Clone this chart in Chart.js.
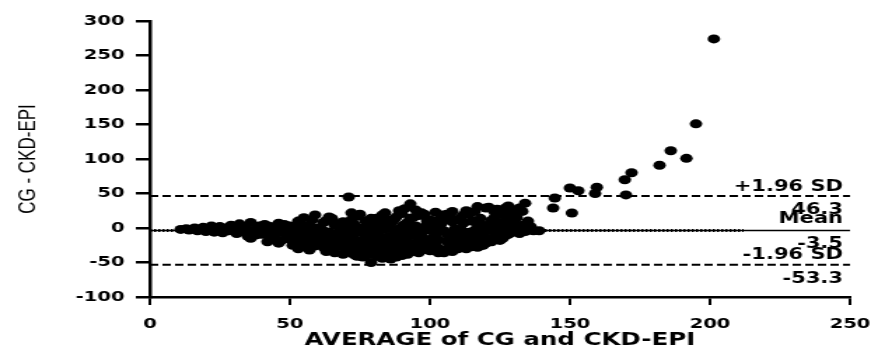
<!DOCTYPE html>
<html>
<head>
<meta charset="utf-8">
<script src="https://cdn.jsdelivr.net/npm/chart.js@4.4.0/dist/chart.umd.min.js"></script>
<style>
  body { margin: 0; background: #fff; }
  #wrap { width: 871px; height: 349px; overflow: hidden; }
  /* the original picture is stretched sideways, so the canvas is too */
  #c { transform: scaleX(1.4003); transform-origin: 0 0; }
</style>
</head>
<body>
<div id="wrap"><canvas id="c" width="622" height="349"></canvas></div>
<script>
// average of CG and CKD-EPI (x) and CG - CKD-EPI (y)
const averages = [
    11, 13, 14, 16, 17, 18, 19, 20,
    21, 22, 23, 24, 25, 26, 27, 28, 29, 30,
    31, 32, 33, 34, 35, 36, 37, 38, 39, 40, 36, 38, 34,
    41, 42, 43, 44, 45, 46, 47, 48, 49, 50, 42, 44, 46, 48, 50, 47, 43, 45,
    51, 52, 53, 54, 55, 56, 57, 58, 59, 60, 51, 52, 53, 54, 55, 56, 57, 58, 59, 60, 53, 57, 55, 59,
    61, 62, 63, 64, 65, 66, 67, 68, 69, 70, 61, 62, 63, 64, 65, 66, 67, 68, 69, 70,
    61, 62, 63, 64, 65, 66, 67, 68, 69, 70, 62, 64, 66, 68, 70,
    71, 71, 72, 73, 74, 75, 76, 77, 78, 79, 80, 71, 72, 73, 74, 75, 76, 77, 78, 79, 80,
    71, 72, 73, 74, 75, 76, 77, 78, 79, 80, 72, 74, 76, 78, 80, 73, 75, 77, 79,
    81, 82, 83, 84, 85, 86, 87, 88, 89, 90, 81, 82, 83, 84, 85, 86, 87, 88, 89, 90,
    81, 82, 83, 84, 85, 86, 87, 88, 89, 90, 81, 82, 83, 84, 85, 86, 87, 88, 89, 90, 83, 85, 87, 89,
    91, 92, 93, 94, 95, 96, 97, 98, 99, 100, 91, 92, 93, 94, 95, 96, 97, 98, 99, 100,
    91, 92, 93, 94, 95, 96, 97, 98, 99, 100, 91, 93, 95, 97, 99, 92, 94, 96, 98, 100,
    101, 102, 103, 104, 105, 106, 107, 108, 109, 110, 101, 102, 103, 104, 105, 106, 107, 108, 109, 110,
    101, 102, 103, 104, 105, 106, 107, 108, 109, 110, 102, 104, 106, 108, 110, 103,
    111, 112, 113, 114, 115, 116, 117, 118, 119, 120, 111, 112, 113, 114, 115, 116, 117, 118, 119, 120,
    111, 112, 113, 114, 115, 116, 117, 118, 119, 120, 112, 114, 116, 118, 120,
    121, 122, 123, 124, 125, 126, 127, 128, 129, 130, 121, 122, 123, 124, 125, 126, 127, 128, 129, 130,
    121, 122, 123, 124, 125, 126, 127, 128, 129, 130, 123, 125, 127,
    131, 132, 133, 134, 135, 131, 132, 133, 134, 135, 136, 130, 132, 134, 137, 139, 128, 136,
    144.6, 144, 150.7, 150, 153, 159.6, 159, 169.6, 170, 172, 182, 186, 191.6, 195, 201.4
];
const differences = [
    -2, -1, -3, 0, -4, -2, 1, -5,
    -1, 3, -6, -3, 2, -7, 0, -4, 4, -2,
    -8, 6, -3, 1, -12, 8, -5, -1, 3, -9, -15, -10, -6,
    5, -4, -14, 0, -8, 7, -18, -2, -11, 3, -20, -12, -22, 5, -16, -6, 2, -1,
    -25, -7, 10, -13, -2, -28, 4, -19, 19, -10, 1, -17, -30, 6, -22, -5, -12, 12, -26, 0, -9, -32, 15, -3,
    -20, 8, -34, -6, 14, -15, -27, 2, -38, -9, -2, -28, 11, -17, -31, 4, -11, -22, 9, -33,
    -12, -4, -24, 16, -8, -36, 6, -14, -26, 1, -18, -30, -20, -7, -16,
    45, -23, 12, -39, -3, 20, -30, -12, 7, -50, -19, 3, -14, -28, 17, -6, -42, 10, -25, -1, -36,
    -35, -8, 5, -20, -33, 0, -17, -38, 14, -10, 22, -41, -24, -4, 4, -16, -26, -40, -30,
    -41, 9, -27, 22, -13, -45, -3, 16, -32, -20, -6, -22, 3, -35, 12, -16, -29, -8, 25, -40,
    14, -31, -15, -2, -38, 6, -24, -42, -11, 2, -26, -12, 19, -19, 0, -33, 11, -28, -5, 21, -44, -23, -36, -18,
    -27, 8, 35, -34, -9, 18, -22, 1, -30, 12, -13, -38, -2, 15, -26, -5, 22, -16, 4, -33,
    5, -20, -30, -11, 26, -36, -8, -28, -19, -3, 28, 14, 3, -32, 10, -7, -24, -17, 20, -24,
    -14, 23, -29, 6, -36, -8, 17, -22, -1, -30, 2, -20, 11, -34, -4, 20, -27, 9, -15, -6,
    -25, -9, -17, -3, 14, -31, -12, 24, -28, 12, 5, 19, -19, -34, -20, -36,
    -24, 7, -11, 20, -27, -3, 31, -18, 4, -22, 15, -15, -30, -6, 10, -21, -9, 14, -25, -4,
    -2, -26, 25, -17, -12, 24, -28, 2, -10, 29, 19, -23, 9, -26, -14,
    -17, 11, -6, 27, -13, 4, 18, -9, 25, -2, 3, -20, 15, -10, 8, -15, -3, 12, -7, 22,
    30, -2, -14, 1, 20, 26, -11, 6, 0, 9, 24, -18, 29,
    -4, 29, 4, 36, -2, 15, -1, 24, -5, 10, -3, 26, -8, -1, -4, -4, 32, 2,
    43.5, 29, 21.7, 58, 54, 59, 50, 70, 48, 80, 91, 112, 101, 151, 274
];

const meanDiff = -3.5;
const upperLimit = 46.3;
const lowerLimit = -53.3;
const xRange = [0, 250];
const yRange = [-100, 300];
const dottedEnd = 212;

const points = averages.map((x, i) => ({x: x, y: differences[i]}));

function hLine(yVal, x0, x1) {
    return [{x: x0, y: yVal}, {x: x1, y: yVal}];
}

Chart.defaults.font.family = '"DejaVu Sans"';
Chart.defaults.color = '#000';

const limitLabels = {
    id: 'limitLabels',
    afterDatasetsDraw(chart) {
        const {ctx, chartArea, scales: {y}} = chart;
        const xr = chartArea.right - 5;
        ctx.save();
        ctx.font = 'bold 15px "DejaVu Sans"';
        ctx.fillStyle = '#000';
        ctx.textAlign = 'right';
        ctx.fillText('+1.96 SD', xr, y.getPixelForValue(upperLimit) - 5);
        ctx.fillText(upperLimit.toFixed(1), xr, y.getPixelForValue(upperLimit) + 18);
        ctx.fillText('Mean', xr, y.getPixelForValue(meanDiff) - 7);
        ctx.fillText(meanDiff.toFixed(1), xr, y.getPixelForValue(meanDiff) + 18);
        ctx.fillText('-1.96 SD', xr, y.getPixelForValue(lowerLimit) - 6);
        ctx.fillText(lowerLimit.toFixed(1), xr, y.getPixelForValue(lowerLimit) + 18);
        ctx.restore();
    }
};

new Chart(document.getElementById('c'), {
    type: 'scatter',
    data: {
        datasets: [
            {
                data: points,
                pointRadius: 4.5,
                pointBorderWidth: 0,
                backgroundColor: '#000',
                borderColor: '#000'
            },
            {
                type: 'line',
                data: hLine(upperLimit, xRange[0], xRange[1]),
                borderColor: '#000',
                borderWidth: 2,
                borderDash: [6, 3],
                pointRadius: 0
            },
            {
                type: 'line',
                data: hLine(lowerLimit, xRange[0], xRange[1]),
                borderColor: '#000',
                borderWidth: 2,
                borderDash: [6, 3],
                pointRadius: 0
            },
            {
                type: 'line',
                data: hLine(meanDiff, xRange[0], xRange[1]),
                borderColor: '#000',
                borderWidth: 1.5,
                pointRadius: 0
            },
            {
                type: 'line',
                data: hLine(meanDiff, xRange[0], dottedEnd),
                borderColor: '#000',
                borderWidth: 3,
                borderDash: [1.5, 1.5],
                pointRadius: 0
            }
        ]
    },
    options: {
        responsive: false,
        devicePixelRatio: 1,
        animation: false,
        layout: {padding: {top: 21, right: 15, left: 0, bottom: 0}},
        plugins: {legend: {display: false}, tooltip: {enabled: false}},
        scales: {
            x: {
                type: 'linear',
                min: xRange[0],
                max: xRange[1],
                ticks: {stepSize: 50, padding: 11, font: {size: 14, weight: 'bold'}},
                grid: {drawOnChartArea: false, tickLength: 8, color: '#000', lineWidth: 2},
                border: {color: '#000', width: 2.5},
                title: {
                    display: true,
                    text: 'AVERAGE of CG and CKD-EPI',
                    font: {size: 17.5, weight: 'bold', lineHeight: 1},
                    padding: {top: 0, bottom: 0}
                },
                afterFit(scale) {
                    scale.height = 52;
                    scale.paddingLeft = 0;
                    scale.paddingRight = 0;
                }
            },
            y: {
                min: yRange[0],
                max: yRange[1],
                ticks: {stepSize: 50, padding: 8, font: {size: 14, weight: 'bold'}},
                grid: {drawOnChartArea: false, tickLength: 10, color: '#000', lineWidth: 2.5},
                border: {color: '#000', width: 2.5},
                title: {
                    display: true,
                    text: 'CG - CKD-EPI',
                    font: {family: '"Liberation Sans"', size: 17, weight: 'normal'},
                    padding: {top: 10, bottom: 0}
                },
                afterFit(scale) {
                    scale.width = 107;
                    scale.paddingTop = 0;
                    scale.paddingBottom = 0;
                }
            }
        }
    },
    plugins: [limitLabels]
});
</script>
</body>
</html>
